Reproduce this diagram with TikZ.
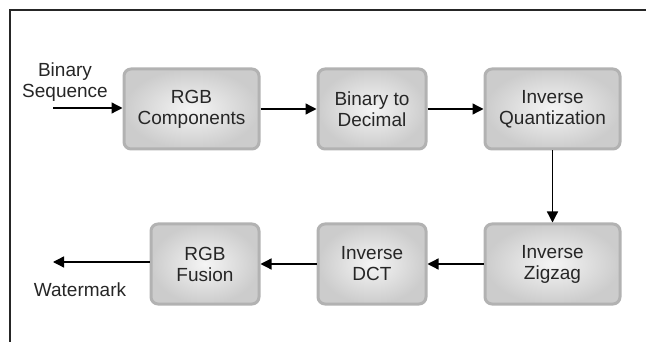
\documentclass[tikz,border=0pt]{standalone}
\usepackage{fontspec}
\setmainfont{Liberation Sans}
\usetikzlibrary{positioning, arrows.meta}

\tikzset{
    blockbox/.style={rectangle, rounded corners=7pt, draw=gray!60, line width=3pt,
        inner color=gray!8, outer color=gray!40, minimum height=80pt,
        align=center, text=black!85, font=\fontsize{19}{21}\selectfont},
    flow/.style={line width=1.3pt, -{Triangle[length=11pt, width=11pt]}},
    plainlabel/.style={align=center, text=black!85, font=\fontsize{19}{21}\selectfont}
}

\begin{document}
\begin{tikzpicture}[x=1pt, y=1pt]

    \useasboundingbox (0, 0) rectangle (646, -342);

    % Border frame
    \draw[line width=1.5pt, black!85] (10, -342) -- (10, -10) -- (646, -10);

    % Top row
    \node [blockbox, minimum width=135pt] (rgbcomp) at (191.5, -109) {RGB\\Components};
    \node [blockbox, minimum width=108pt, right=56pt of rgbcomp] (bintodec) {Binary to\\Decimal};
    \node [blockbox, minimum width=135pt, right=56pt of bintodec] (invquant) {Inverse\\Quantization};

    % Bottom row
    \node [blockbox, minimum width=135pt, below=72pt of invquant] (invzig) {Inverse\\Zigzag};
    \node [blockbox, minimum width=108pt, left=56pt of invzig] (invdct) {Inverse\\DCT};
    \node [blockbox, minimum width=108pt, left=56pt of invdct] (rgbfus) {RGB\\Fusion};

    % Input and output
    \coordinate (binin) at (53, -108);
    \coordinate (wmout) at (53, -262);
    \node [plainlabel] (binlabel) at (65, -82) {Binary\\Sequence};
    \node [plainlabel] (wmlabel) at (80, -290) {Watermark};

    % Connectors
    \draw[flow] (binin) -- (rgbcomp.west |- binin);
    \draw[flow] (rgbcomp) -- (bintodec);
    \draw[flow] (bintodec) -- (invquant);
    \draw[flow] (invquant) -- (invzig);
    \draw[flow] (invzig) -- (invdct);
    \draw[flow] (invdct) -- (rgbfus);
    \draw[flow] (rgbfus.west |- wmout) -- (wmout);

\end{tikzpicture}
\end{document}
